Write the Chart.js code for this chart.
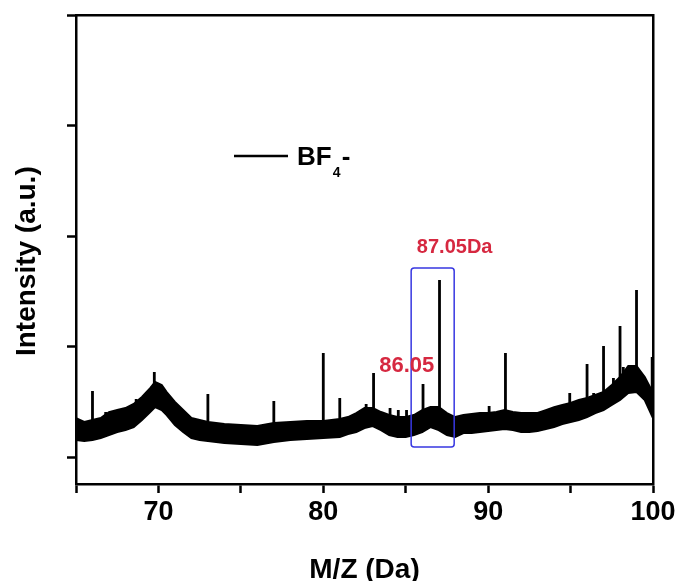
<!DOCTYPE html>
<html>
<head>
<meta charset="utf-8">
<script src="https://cdn.jsdelivr.net/npm/chart.js@4.4.1/dist/chart.umd.min.js"></script>
<style>
  html, body { margin: 0; padding: 0; background: #fff; overflow: hidden; }
  canvas { display: block; }
</style>
</head>
<body>
<canvas id="spectrum" width="681" height="581"></canvas>
<script>
// ===== data =====
// noisy baseline band: m/z with upper and lower edge of the band
const bandMz    = [65.0, 65.5, 66.0, 66.5, 67.0, 67.5, 68.0, 68.5, 69.0, 69.5, 69.8, 70.2, 70.5, 71.0, 71.5, 72.0, 72.5, 73.0, 74.0, 75.0, 76.0, 77.0, 78.0, 79.0, 80.0, 81.0, 81.5, 82.0, 82.5, 83.0, 83.5, 84.0, 84.5, 85.0, 85.5, 86.0, 86.5, 87.0, 87.5, 88.0, 88.5, 89.0, 89.5, 90.0, 90.5, 91.0, 91.5, 92.0, 92.5, 93.0, 93.5, 94.0, 94.5, 95.0, 95.5, 96.0, 96.5, 97.0, 97.5, 98.0, 98.5, 99.0, 99.5, 100.0];
const bandUpper = [1.353, 1.317, 1.335, 1.353, 1.407, 1.425, 1.443, 1.480, 1.543, 1.624, 1.679, 1.652, 1.588, 1.498, 1.425, 1.353, 1.335, 1.317, 1.299, 1.290, 1.281, 1.308, 1.317, 1.326, 1.326, 1.344, 1.362, 1.398, 1.443, 1.443, 1.407, 1.380, 1.362, 1.362, 1.380, 1.425, 1.452, 1.452, 1.398, 1.362, 1.380, 1.389, 1.398, 1.398, 1.407, 1.425, 1.407, 1.398, 1.398, 1.398, 1.425, 1.452, 1.471, 1.489, 1.516, 1.534, 1.561, 1.588, 1.652, 1.724, 1.824, 1.824, 1.724, 1.579];
const bandLower = [1.154, 1.145, 1.154, 1.172, 1.199, 1.226, 1.244, 1.271, 1.335, 1.407, 1.452, 1.425, 1.380, 1.290, 1.226, 1.172, 1.154, 1.145, 1.127, 1.118, 1.109, 1.136, 1.154, 1.163, 1.172, 1.181, 1.208, 1.226, 1.262, 1.281, 1.244, 1.199, 1.181, 1.181, 1.199, 1.226, 1.271, 1.244, 1.199, 1.181, 1.217, 1.217, 1.226, 1.235, 1.244, 1.253, 1.244, 1.226, 1.226, 1.235, 1.253, 1.271, 1.299, 1.317, 1.335, 1.362, 1.398, 1.425, 1.471, 1.516, 1.579, 1.588, 1.516, 1.353];

// sharp peaks: position, top and foot of each line (small ones are noise bursts)
const spikeMz   = [66.0, 66.8, 68.65, 69.75, 73.0, 77.0, 80.0, 81.0, 82.6, 83.05, 84.05, 84.55, 85.05, 86.05, 87.05, 90.06, 91.05, 94.95, 96.0, 96.4, 97.0, 97.6, 98.0, 98.2, 99.0, 99.95];
const spikeTop  = [1.597, 1.407, 1.525, 1.769, 1.570, 1.507, 1.941, 1.534, 1.480, 1.760, 1.443, 1.425, 1.425, 1.661, 2.602, 1.462, 1.941, 1.579, 1.842, 1.579, 2.005, 1.715, 2.186, 1.814, 2.511, 1.905];
const spikeBase = [1.244, 1.244, 1.353, 1.561, 1.244, 1.226, 1.244, 1.262, 1.362, 1.362, 1.290, 1.271, 1.271, 1.335, 1.353, 1.335, 1.335, 1.407, 1.443, 1.480, 1.516, 1.562, 1.624, 1.660, 1.715, 1.471];

// axes
const xTickValues = [65, 70, 75, 80, 85, 90, 95, 100];
const xTickLabels = ["", "70", "", "80", "", "90", "", "100"];
const yTickValues = [1, 2, 3, 4, 5];

// highlight box and labels
const boxMz = [85.33, 87.94];
const boxY = [1.091, 2.71];
const peakLabels = [
  { text: "87.05Da", mz: 87.97, y: 2.896, size: 20 },
  { text: "86.05", mz: 85.06, y: 1.828, size: 22 }
];

const FONT = '"Liberation Sans", Arial, Helvetica, sans-serif';

const upperData = bandMz.map((m, i) => ({ x: m, y: bandUpper[i] }));
const lowerData = bandMz.map((m, i) => ({ x: m, y: bandLower[i] }));
const spikeData = [];
spikeMz.forEach((m, i) => {
  spikeData.push({ x: m, y: spikeBase[i] }, { x: m, y: spikeTop[i] }, { x: m, y: null });
});

// legend "— BF4-" with subscript
const legendPlugin = {
  id: "bfLegend",
  afterDraw(chart) {
    const { ctx, chartArea } = chart;
    const x0 = chartArea.left + 158;
    const y0 = chartArea.top + 141;
    ctx.save();
    ctx.strokeStyle = "#000";
    ctx.lineWidth = 2.5;
    ctx.beginPath();
    ctx.moveTo(x0, y0);
    ctx.lineTo(x0 + 54, y0);
    ctx.stroke();
    ctx.fillStyle = "#000";
    ctx.textBaseline = "alphabetic";
    ctx.textAlign = "left";
    ctx.font = "bold 26px " + FONT;
    ctx.fillText("BF", x0 + 63, y0 + 9);
    const w = ctx.measureText("BF").width;
    ctx.font = "bold 14px " + FONT;
    ctx.fillText("4", x0 + 64 + w, y0 + 21);
    ctx.font = "bold 26px " + FONT;
    ctx.fillText("-", x0 + 73 + w, y0 + 9);
    ctx.restore();
  }
};

// blue box round the 86/87 peaks and the red labels
const boxPlugin = {
  id: "peakBox",
  afterDatasetsDraw(chart) {
    const { ctx, scales } = chart;
    const x1 = scales.x.getPixelForValue(boxMz[0]);
    const x2 = scales.x.getPixelForValue(boxMz[1]);
    const y1 = scales.y.getPixelForValue(boxY[1]);
    const y2 = scales.y.getPixelForValue(boxY[0]);
    ctx.save();
    ctx.strokeStyle = "rgb(55, 55, 225)";
    ctx.lineWidth = 1.5;
    ctx.beginPath();
    ctx.roundRect(x1, y1, x2 - x1, y2 - y1, 3);
    ctx.stroke();
    ctx.fillStyle = "rgb(214, 40, 64)";
    ctx.textAlign = "center";
    ctx.textBaseline = "middle";
    peakLabels.forEach(l => {
      ctx.font = "bold " + l.size + "px " + FONT;
      ctx.fillText(l.text, scales.x.getPixelForValue(l.mz), scales.y.getPixelForValue(l.y));
    });
    ctx.restore();
  }
};

const ctx = document.getElementById("spectrum").getContext("2d");

new Chart(ctx, {
  type: "line",
  data: {
    datasets: [
      {
        label: "band top",
        data: upperData,
        borderColor: "#000",
        backgroundColor: "#000",
        borderWidth: 2,
        pointRadius: 0,
        fill: "+1"
      },
      {
        label: "band bottom",
        data: lowerData,
        borderColor: "#000",
        borderWidth: 2,
        pointRadius: 0,
        fill: false
      },
      {
        label: "BF4-",
        data: spikeData,
        borderColor: "#000",
        borderWidth: 2.8,
        pointRadius: 0,
        spanGaps: false,
        fill: false
      }
    ]
  },
  options: {
    responsive: false,
    animation: false,
    layout: { padding: { top: 15, right: 28, left: 0, bottom: 0 } },
    plugins: {
      legend: { display: false },
      tooltip: { enabled: false }
    },
    scales: {
      x: {
        type: "linear",
        position: "bottom",
        min: 65,
        max: 100,
        afterBuildTicks: s => { s.ticks = xTickValues.map(v => ({ value: v })); },
        afterFit: s => { s.height = 97; },
        ticks: {
          color: "#000",
          font: { family: FONT, size: 27, weight: "bold" },
          padding: 3,
          maxRotation: 0,
          autoSkip: false,
          callback: v => xTickLabels[xTickValues.indexOf(v)]
        },
        grid: {
          display: true,
          drawOnChartArea: false,
          drawTicks: true,
          tickLength: 9,
          tickWidth: 2.5,
          tickColor: "#000"
        },
        border: { display: true, color: "#000", width: 2.5 },
        title: {
          display: true,
          text: "M/Z (Da)",
          color: "#000",
          font: { family: FONT, size: 28, weight: "bold", lineHeight: 1 },
          padding: { top: 0, bottom: -3 }
        }
      },
      y: {
        type: "linear",
        position: "left",
        min: 0.756,
        max: 5,
        afterBuildTicks: s => { s.ticks = yTickValues.map(v => ({ value: v })); },
        afterFit: s => { s.width = 76; },
        ticks: { display: false },
        grid: {
          display: true,
          drawOnChartArea: false,
          drawTicks: true,
          tickLength: 9,
          tickWidth: 2.5,
          tickColor: "#000"
        },
        border: { display: true, color: "#000", width: 2.5 },
        title: {
          display: true,
          text: "Intensity (a.u.)   ",
          color: "#000",
          font: { family: FONT, size: 28, weight: "bold", lineHeight: 1.2 },
          padding: { top: 10, bottom: 0 }
        }
      },
      x2: {
        type: "linear",
        position: "top",
        min: 65,
        max: 100,
        afterFit: s => { s.height = 0; },
        ticks: { display: false },
        grid: { display: false },
        border: { display: true, color: "#000", width: 2.5 }
      },
      y2: {
        type: "linear",
        position: "right",
        min: 0.756,
        max: 5,
        afterFit: s => { s.width = 0; },
        ticks: { display: false },
        grid: { display: false },
        border: { display: true, color: "#000", width: 2.5 }
      }
    }
  },
  plugins: [legendPlugin, boxPlugin]
});
</script>
</body>
</html>
